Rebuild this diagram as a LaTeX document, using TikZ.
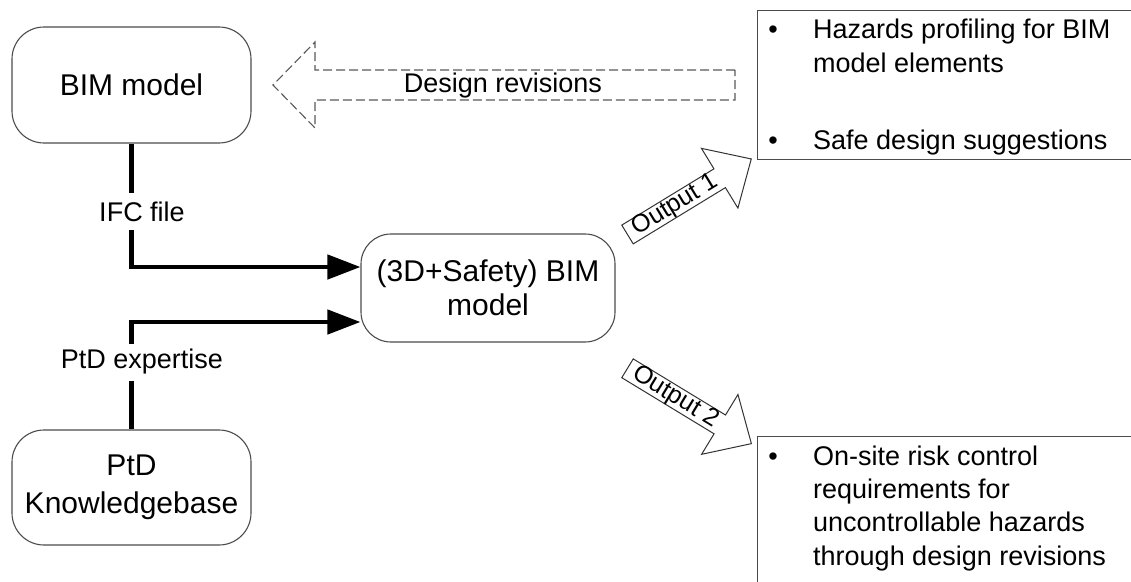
\documentclass[tikz,border=0pt]{standalone}
\usepackage{fontspec}
\setmainfont{Liberation Sans}
\usetikzlibrary{arrows.meta,calc}
\begin{document}
\begin{tikzpicture}[x=1pt,y=-1pt,
  rbox/.style={draw=black!70,line width=1.1pt,rounded corners=32pt,align=center,inner sep=0pt,font=\fontsize{30}{38}\selectfont},
  conn/.style={line width=4.5pt,-{Triangle[length=33pt,width=24pt]}},
  lbl/.style={fill=white,inner sep=0pt,minimum height=37pt,font=\fontsize{27}{32}\selectfont},
  obox/.style={draw=black!70,line width=1.1pt,inner sep=0pt,anchor=north west},
  otext/.style={anchor=base west,inner sep=0pt,font=\fontsize{27}{32}\selectfont},
  bul/.style={anchor=base,inner sep=0pt,font=\fontsize{27}{32}\selectfont},
  revarrow/.style={draw=black!65,line width=1.1pt,dash pattern=on 9pt off 4pt},
  outarrow/.style={draw=black!80,line width=1pt,fill=white},
  otag/.style={inner sep=0pt,font=\fontsize{25}{30}\selectfont}]
\path[use as bounding box] (0,0) rectangle (1131,581);
\clip (0,0) rectangle (1131,581);

% main boxes
\node[rbox,minimum width=239pt,minimum height=116pt] (bim) at (131.5,85) {BIM model};
\node[rbox,minimum width=239pt,minimum height=115pt] (ptd) at (131.5,487.5) {PtD\\Knowledgebase};
\node[rbox,rounded corners=30pt,minimum width=254pt,minimum height=108pt,font=\fontsize{30}{34}\selectfont] (ctr) at (488,288) {(3D+Safety) BIM\\model};

% connectors
\draw[conn] (bim.south) |- ($(ctr.west)+(0,-21)$);
\draw[conn] (ptd.north) |- ($(ctr.west)+(0,34)$);
\node[lbl] (ifc) at (142,211.5) {IFC file};
\node[lbl] (exp) at (142,362) {PtD expertise};

% design revisions arrow
\draw[revarrow] (735,70) -- (315,70) -- (315,42) -- (273,85) -- (315,128) -- (315,100) -- (735,100) -- cycle;
\node[inner sep=0pt,font=\fontsize{27}{32}\selectfont] (rev) at (503,86) {Design revisions};

% output arrows
\begin{scope}[shift={(627.5,234.5)},rotate=31.4]
  \draw[outarrow] (0,-11) -- (108,-11) -- (108,-35) -- (145,0) -- (108,35) -- (108,11) -- (0,11) -- cycle;
  \node[otag,rotate=31.4] (o1) at (56,0) {Output 1};
\end{scope}
\begin{scope}[shift={(627.5,368.3)},rotate=-31.3]
  \draw[outarrow] (0,-11) -- (108,-11) -- (108,-35) -- (145,0) -- (108,35) -- (108,11) -- (0,11) -- cycle;
  \node[otag,rotate=-31.3] (o2) at (56,0) {Output 2};
\end{scope}

% result boxes
\node[obox,minimum width=400pt,minimum height=149pt] (res1) at (757,10) {};
\node[obox,minimum width=400pt,minimum height=200pt] (res2) at (757,436) {};
\node[bul] (b1) at (773,38) {\textbullet};
\node[otext] (t1) at (813,38) {Hazards profiling for BIM};
\node[otext] (t2) at (813,72) {model elements};
\node[bul] (b2) at (773,149) {\textbullet};
\node[otext] (t3) at (813,149) {Safe design suggestions};
\node[bul] (b3) at (773,465) {\textbullet};
\node[otext] (t4) at (813,465) {On-site risk control};
\node[otext] (t5) at (813,498) {requirements for};
\node[otext] (t6) at (813,531) {uncontrollable hazards};
\node[otext] (t7) at (813,565) {through design revisions};
\end{tikzpicture}
\end{document}
